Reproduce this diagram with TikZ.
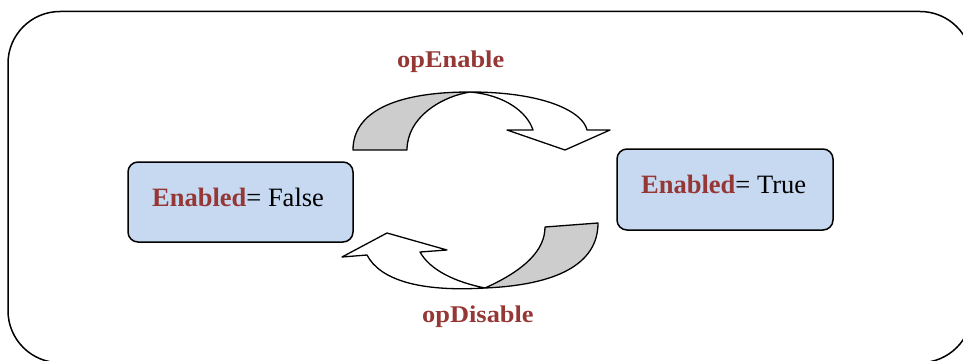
\documentclass[tikz,border=0pt]{standalone}
\usepackage{fontspec}
\setmainfont{Liberation Serif}
\definecolor{dred}{HTML}{953735}
\definecolor{boxblue}{HTML}{C6D9F1}
\definecolor{bandgray}{HTML}{CDCDCD}
\begin{document}
\begin{tikzpicture}[x=1pt,y=-1pt,line join=round,
  statebox/.style={draw=black,line width=1.5pt,fill=boxblue,rounded corners=10pt,inner sep=0pt},
  boxtext/.style={anchor=base west,inner sep=0pt,font=\fontsize{26.5}{30}\selectfont},
  optext/.style={anchor=base west,inner sep=0pt,font=\fontsize{24}{28}\selectfont\bfseries,text=dred},
  ribbonback/.style={draw=black,line width=1.3pt,fill=bandgray},
  ribbonfront/.style={draw=black,line width=1.3pt,fill=white}]
\useasboundingbox (0,0) rectangle (963,361);
\begin{scope}
  \clip (0,0) rectangle (963,361);
  \draw[line width=1.5pt,rounded corners=52pt] (8,11.5) rectangle (972,362.7);
\end{scope}
% state boxes
\node[statebox,minimum width=225pt,minimum height=80pt] (off) at (240.5,202) {};
\node[statebox,minimum width=216pt,minimum height=81pt] (on) at (725,189.5) {};
\node[boxtext] (offtxt) at (152,206) {\textcolor{dred}{\bfseries Enabled}= False};
\node[boxtext] (ontxt) at (641,193) {\textcolor{dred}{\bfseries Enabled}= True};
% labels
\node[optext] (openable) at (397,67) {\scalebox{1.1}[1]{opEnable}};
\node[optext] (opdisable) at (422,322) {\scalebox{1.1}[1]{opDisable}};
% top curved arrow
\path[ribbonback] (353,150) .. controls (353,112) and (395,92) .. (470,92)
  .. controls (440,97) and (407,118) .. (407,150) -- cycle;
\path[ribbonfront] (470,92) .. controls (545,92) and (583,112) .. (587,130)
  -- (610,130) -- (565,150) -- (507,130) -- (533,130)
  .. controls (527,112) and (505,95) .. (470,92) -- cycle;
% bottom curved arrow
\path[ribbonback] (545,227) -- (598,223) .. controls (598,265) and (555,285) .. (485,288)
  .. controls (525,270) and (545,250) .. (545,227) -- cycle;
\path[ribbonfront] (485,288) .. controls (420,292) and (380,280) .. (367,255)
  -- (342,257) -- (387,233) -- (447,250) -- (420,252)
  .. controls (430,270) and (455,282) .. (485,288) -- cycle;
\end{tikzpicture}
\end{document}
